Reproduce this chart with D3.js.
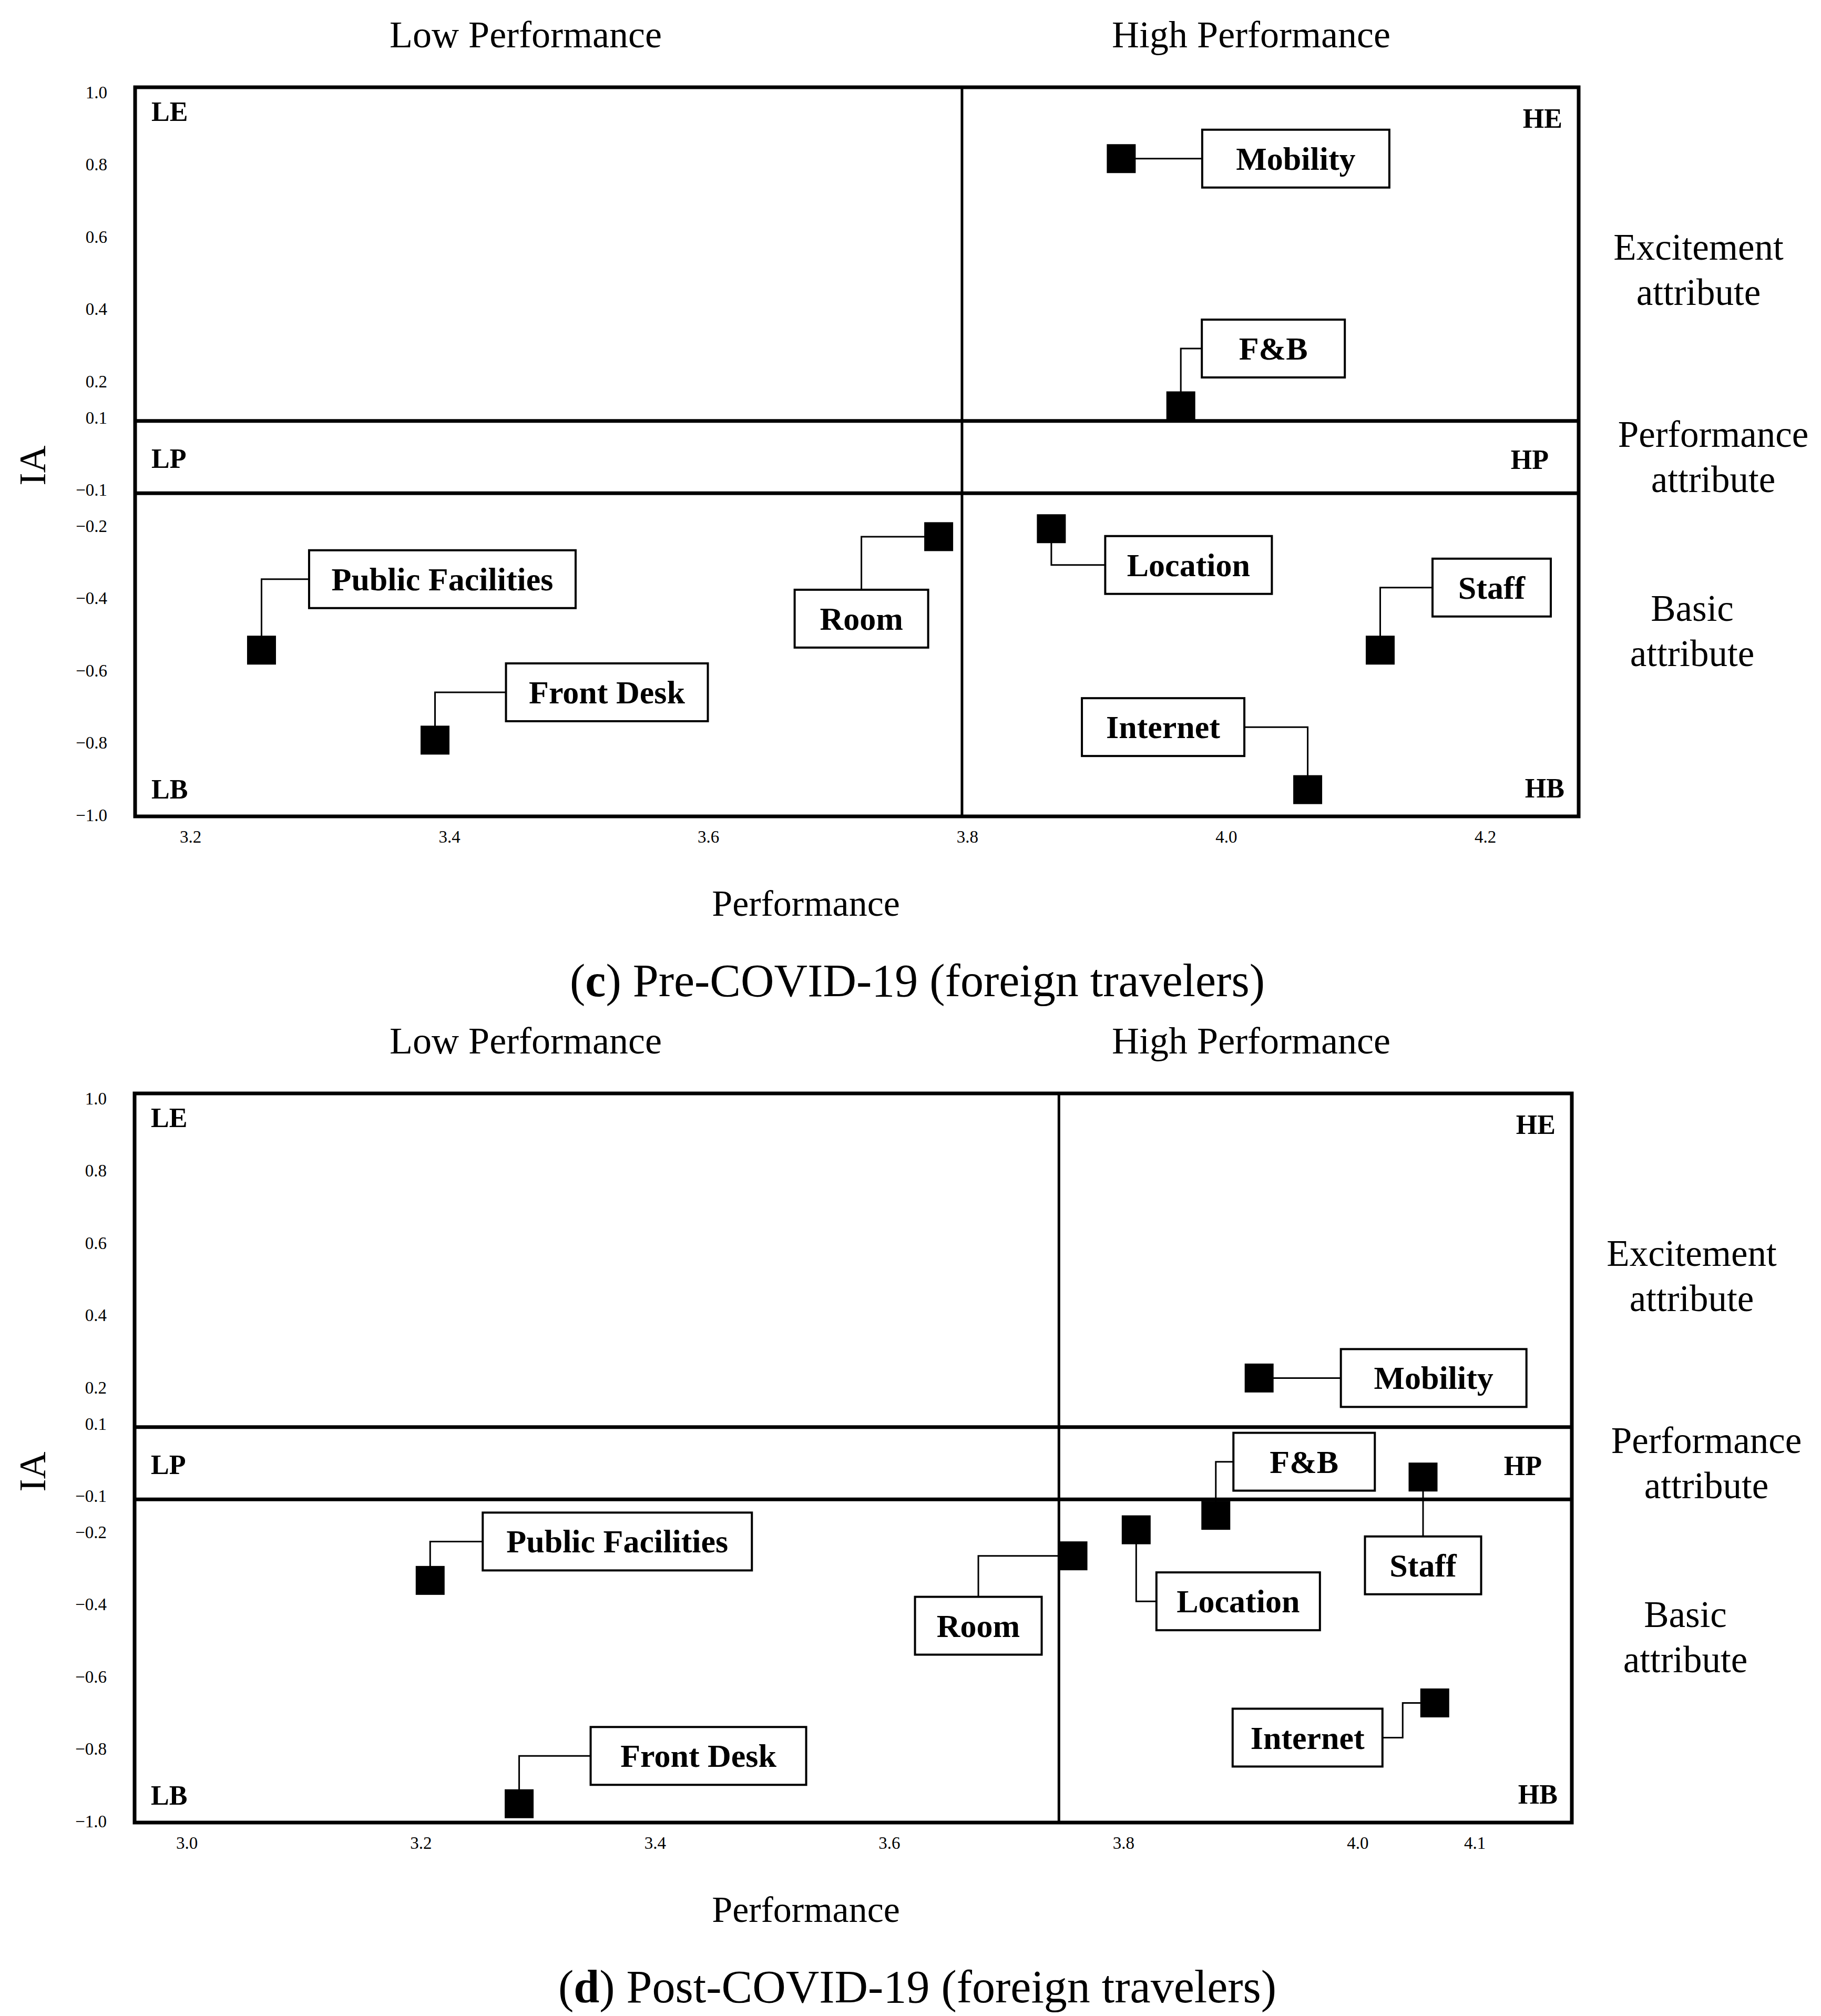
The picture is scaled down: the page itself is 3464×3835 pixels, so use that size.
<!DOCTYPE html>
<html>
<head>
<meta charset="utf-8">
<script src="https://cdn.jsdelivr.net/npm/d3@7"></script>
<style>
  body { margin: 0; background: #fff; }
  text { font-family: "Liberation Serif", "Times New Roman", serif; fill: #000; }
</style>
</head>
<body>
<svg id="chart"></svg>
<script>
// IPA-style attribute classification, foreign travelers
const attributes = ["Mobility", "F&B", "Room", "Location", "Staff", "Internet", "Public Facilities", "Front Desk"];

const prePerformance = [3.919, 3.965, 3.778, 3.865, 4.119, 4.063, 3.255, 3.389];
const preIA = [0.82, 0.136, -0.226, -0.204, -0.54, -0.926, -0.54, -0.789];
const preMeanPerformance = 3.796;

const postPerformance = [3.916, 3.879, 3.757, 3.811, 4.056, 4.066, 3.208, 3.284];
const postIA = [0.23, -0.15, -0.262, -0.19, -0.044, -0.669, -0.33, -0.948];
const postMeanPerformance = 3.745;

const preXTicks = [3.2, 3.4, 3.6, 3.8, 4.0, 4.2];
const postXTicks = [3.0, 3.2, 3.4, 3.6, 3.8, 4.0, 4.1];
const yTicks = [1.0, 0.8, 0.6, 0.4, 0.2, 0.1, -0.1, -0.2, -0.4, -0.6, -0.8, -1.0];
const iaThresholds = [0.1, -0.1];

const quadrantLeft = ["LE", "LP", "LB"];
const quadrantRight = ["HE", "HP", "HB"];
const zoneNames = [["Excitement", "attribute"], ["Performance", "attribute"], ["Basic", "attribute"]];

// label boxes, offsets from their marker (layout only)
const preLabelLayout = {
    "Mobility": { dx: 332, dy: 0, w: 356, link: "vh" },
    "F&B": { dx: 176, dy: -109, w: 272, link: "vh" },
    "Room": { dx: -147, dy: 156, w: 254, link: "hv" },
    "Location": { dx: 261, dy: 69, w: 317, link: "vh" },
    "Staff": { dx: 212, dy: -119, w: 225, link: "vh" },
    "Internet": { dx: -275, dy: -119, w: 309, link: "vh" },
    "Public Facilities": { dx: 344, dy: -135, w: 507, link: "vh" },
    "Front Desk": { dx: 327, dy: -91, w: 384, link: "vh" }
};
const postLabelLayout = {
    "Mobility": { dx: 332, dy: 0, w: 353, link: "vh" },
    "F&B": { dx: 168, dy: -102, w: 269, link: "vh" },
    "Room": { dx: -180, dy: 133, w: 241, link: "hv" },
    "Location": { dx: 194, dy: 136, w: 311, link: "vh" },
    "Staff": { dx: 0, dy: 168, w: 221, link: "hv" },
    "Internet": { dx: -242, dy: 66, w: 285, link: "hvh", mid: -61 },
    "Public Facilities": { dx: 356, dy: -74, w: 512, link: "vh" },
    "Front Desk": { dx: 341, dy: -91, w: 410, link: "vh" }
};

const panels = [
    { letter: "c", caption: ") Pre-COVID-19 (foreign travelers)", perf: prePerformance, ia: preIA,
      mean: preMeanPerformance, xTicks: preXTicks, xRange: [362, 2825], frame: [257, 3003],
      labels: preLabelLayout, off: 0 },
    { letter: "d", caption: ") Post-COVID-19 (foreign travelers)", perf: postPerformance, ia: postIA,
      mean: postMeanPerformance, xTicks: postXTicks, xRange: [355, 2805], frame: [256, 2990],
      labels: postLabelLayout, off: 1914 }
];

const W = 3464, H = 3835;
const markerSize = 55, boxH = 110;

const svg = d3.select("#chart")
    .attr("width", W)
    .attr("height", H)
    .attr("viewBox", `0 0 ${W} ${H}`);

svg.append("rect").attr("width", W).attr("height", H).attr("fill", "#fff");

panels.forEach(p => {
    const g = svg.append("g").attr("transform", `translate(0,${p.off})`);
    const [left, right] = p.frame;

    const x = d3.scaleLinear()
        .domain([p.xTicks[0], p.xTicks[p.xTicks.length - 1]])
        .range(p.xRange);

    const y = d3.scaleLinear()
        .domain([-1, 1])
        .range([1553, 178]);

    const top = y(1) - 12, bottom = y(-1);

    // axes: labels only
    const yAxis = g.append("g")
        .attr("transform", `translate(${left},0)`)
        .call(d3.axisLeft(y).tickValues(yTicks).tickSize(0).tickPadding(53).tickFormat(d3.format(".1f")));
    const xAxis = g.append("g")
        .attr("transform", `translate(0,${bottom})`)
        .call(d3.axisBottom(x).tickValues(p.xTicks).tickSize(0).tickPadding(27).tickFormat(d3.format(".1f")));
    [yAxis, xAxis].forEach(a => {
        a.attr("font-family", "Liberation Serif").attr("font-size", 33);
        a.select(".domain").remove();
    });
    yAxis.selectAll("text").attr("dy", "0.25em");

    // frame and quadrant dividers
    g.append("rect")
        .attr("x", left).attr("y", top)
        .attr("width", right - left).attr("height", bottom - top)
        .attr("fill", "none").attr("stroke", "#000").attr("stroke-width", 7);

    g.selectAll(".thr")
        .data(iaThresholds)
        .enter()
        .append("line")
        .attr("x1", left).attr("x2", right)
        .attr("y1", d => y(d) + 4).attr("y2", d => y(d) + 4)
        .attr("stroke", "#000").attr("stroke-width", 7);

    g.append("line")
        .attr("x1", x(p.mean)).attr("x2", x(p.mean))
        .attr("y1", top).attr("y2", bottom)
        .attr("stroke", "#000").attr("stroke-width", 5);

    // quadrant codes
    const qy = [y(1) + 52, (y(0.1) + y(-0.1)) / 2 + 24, y(-1) - 34];
    g.selectAll(".ql")
        .data(quadrantLeft)
        .enter()
        .append("text")
        .attr("x", left + 31).attr("y", (d, i) => qy[i])
        .attr("font-size", 52).attr("font-weight", "bold")
        .text(d => d);
    const qr = [31, 57, 27];
    const qyr = [y(1) + 65, (y(0.1) + y(-0.1)) / 2 + 26, y(-1) - 36];
    g.selectAll(".qr")
        .data(quadrantRight)
        .enter()
        .append("text")
        .attr("x", (d, i) => right - qr[i]).attr("y", (d, i) => qyr[i])
        .attr("text-anchor", "end")
        .attr("font-size", 52).attr("font-weight", "bold")
        .text(d => d);

    // headers, titles
    g.append("text").attr("x", 1000).attr("y", 90).attr("text-anchor", "middle")
        .attr("font-size", 72).text("Low Performance");
    g.append("text").attr("x", 2380).attr("y", 90).attr("text-anchor", "middle")
        .attr("font-size", 72).text("High Performance");

    g.append("text")
        .attr("transform", `translate(62,${(y(0.1) + y(-0.1)) / 2 + 20}) rotate(-90)`)
        .attr("text-anchor", "middle").attr("dominant-baseline", "central")
        .attr("font-size", 72).text("IA");

    g.append("text").attr("x", 1533).attr("y", 1742).attr("text-anchor", "middle")
        .attr("font-size", 70).text("Performance");

    const cap = g.append("text").attr("x", 1745).attr("y", 1895).attr("text-anchor", "middle")
        .attr("font-size", 88);
    cap.append("tspan").text("(");
    cap.append("tspan").attr("font-weight", "bold").text(p.letter);
    cap.append("tspan").text(p.caption);

    // zone names on the right
    const zx = [228, 256, 216];
    const zy = [494, 850, 1181];
    zoneNames.forEach((lines, i) => {
        g.selectAll(null)
            .data(lines)
            .enter()
            .append("text")
            .attr("x", right + zx[i])
            .attr("y", (d, j) => zy[i] + j * 86)
            .attr("text-anchor", "middle")
            .attr("font-size", 71)
            .text(d => d);
    });

    // points with labelled boxes
    const pts = attributes.map((name, i) => {
        const mx = x(p.perf[i]), my = y(p.ia[i]);
        const L = p.labels[name];
        return { name, mx, my, bx: mx + L.dx, by: my + L.dy, w: L.w, link: L.link, mid: L.mid };
    });

    const linkPath = d => {
        const edgeX = d.bx > d.mx ? d.bx - d.w / 2 : d.bx + d.w / 2;
        const edgeY = d.by > d.my ? d.by - boxH / 2 : d.by + boxH / 2;
        if (d.link === "hv") return d3.line()([[d.mx, d.my], [d.bx, d.my], [d.bx, edgeY]]);
        if (d.link === "hvh") return d3.line()([[d.mx, d.my], [d.mx + d.mid, d.my], [d.mx + d.mid, d.by], [edgeX, d.by]]);
        return d3.line()([[d.mx, d.my], [d.mx, d.by], [edgeX, d.by]]);
    };

    g.selectAll(".link")
        .data(pts)
        .enter()
        .append("path")
        .attr("d", linkPath)
        .attr("fill", "none").attr("stroke", "#000").attr("stroke-width", 3);

    g.selectAll(".box")
        .data(pts)
        .enter()
        .append("rect")
        .attr("x", d => d.bx - d.w / 2).attr("y", d => d.by - boxH / 2)
        .attr("width", d => d.w).attr("height", boxH)
        .attr("fill", "#fff").attr("stroke", "#000").attr("stroke-width", 4);

    g.selectAll(".lbl")
        .data(pts)
        .enter()
        .append("text")
        .attr("x", d => d.bx).attr("y", d => d.by)
        .attr("dy", "0.34em")
        .attr("text-anchor", "middle")
        .attr("font-size", 62).attr("font-weight", "bold")
        .text(d => d.name);

    g.selectAll(".mark")
        .data(pts)
        .enter()
        .append("rect")
        .attr("x", d => d.mx - markerSize / 2).attr("y", d => d.my - markerSize / 2)
        .attr("width", markerSize).attr("height", markerSize)
        .attr("fill", "#000");
});
</script>
</body>
</html>
